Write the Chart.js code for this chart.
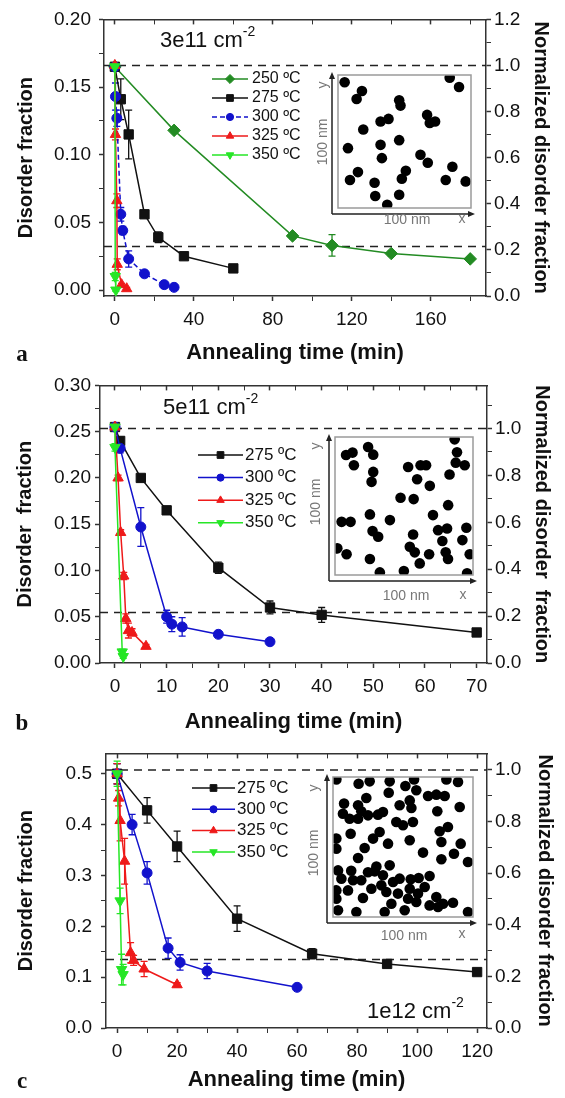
<!DOCTYPE html>
<html>
<head>
<meta charset="utf-8">
<script src="https://cdn.jsdelivr.net/npm/chart.js"></script>
<style>
body{margin:0;width:565px;height:1098px;position:relative;overflow:hidden;background:#fff;font-family:"Liberation Sans",Arial,sans-serif;color:#111;}
canvas{position:absolute;left:0;}
.txt{position:absolute;white-space:nowrap;line-height:1;transform:translate(0,-50%);}
.mid{transform:translate(-50%,-50%);}
.rot{transform:translate(-50%,-50%) rotate(-90deg);}
.dens{font-size:22px;}
.dens span{font-size:14px;position:relative;top:-11px;}
.letter{font-family:"Liberation Serif","Times New Roman",serif;font-weight:bold;font-size:23px;}
.nm{font-size:14px;color:#777;}
</style>
</head>
<body>

<canvas id="panelA" width="565" height="375" style="top:0px"></canvas>
<canvas id="panelB" width="565" height="374" style="top:370px"></canvas>
<canvas id="panelC" width="565" height="364" style="top:733px"></canvas>
<canvas id="insetA"></canvas>
<canvas id="insetB"></canvas>
<canvas id="insetC"></canvas>

<div class="txt dens" style="left:160px;top:40px">3e11 cm<span>-2</span></div>
<div class="txt dens" style="left:163px;top:407px">5e11 cm<span>-2</span></div>
<div class="txt dens" style="left:367px;top:1011px">1e12 cm<span>-2</span></div>

<div class="txt mid letter" style="left:22px;top:353px">a</div>
<div class="txt mid letter" style="left:22px;top:722px">b</div>
<div class="txt mid letter" style="left:22px;top:1080px">c</div>

<div class="txt mid nm" style="left:407px;top:219px">100 nm</div>
<div class="txt mid nm" style="left:462px;top:218px">x</div>
<div class="txt rot nm" style="left:322px;top:142px">100 nm</div>
<div class="txt rot nm" style="left:322px;top:85px">y</div>

<div class="txt mid nm" style="left:406px;top:595px">100 nm</div>
<div class="txt mid nm" style="left:463px;top:594px">x</div>
<div class="txt rot nm" style="left:315px;top:502px">100 nm</div>
<div class="txt rot nm" style="left:315px;top:446px">y</div>

<div class="txt mid nm" style="left:404px;top:935px">100 nm</div>
<div class="txt mid nm" style="left:462px;top:933px">x</div>
<div class="txt rot nm" style="left:313px;top:853px">100 nm</div>
<div class="txt rot nm" style="left:313px;top:788px">y</div>

<script>
const FONT = '"Liberation Sans", Arial, sans-serif';
const FRAME = "#333";

/* ---------- panel a : 3e11 cm-2 ---------- */
const aTime250 = [0, 30, 90, 110, 140, 180];
const aFrac250 = [0.165, 0.118, 0.040, 0.033, 0.027, 0.023];
const aErr250  = [0, 0, 0.002, 0.008, 0.002, 0.001];
const aTime275 = [0, 3, 7, 15, 22, 35, 60];
const aFrac275 = [0.165, 0.141, 0.115, 0.056, 0.039, 0.025, 0.016];
const aErr275  = [0, 0.015, 0.018, 0.002, 0.004, 0.002, 0.001];
const aTime300 = [0, 0.3, 1, 3, 4, 7, 15, 25, 30];
const aFrac300 = [0.165, 0.143, 0.127, 0.056, 0.044, 0.023, 0.012, 0.004, 0.002];
const aErr300  = [0, 0.01, 0.006, 0.005, 0.003, 0.006, 0.002, 0.001, 0.001];
const aTime325 = [0, 0.3, 1, 1.2, 3.4, 6];
const aFrac325 = [0.166, 0.115, 0.066, 0.019, 0.004, 0.001];
const aErr325  = [0.002, 0.004, 0.005, 0.004, 0.001, 0.001];
const aTime350 = [0, 0.2, 0.5];
const aFrac350 = [0.165, 0.010, 0.0];
const aErr350  = [0.002, 0.003, 0.001];
const aDash = [1.0, 0.215];
const aXMajor = [0, 40, 80, 120, 160];
const aXMinor = [20, 60, 100, 140, 180];
const aYMajor = [0, 0.05, 0.1, 0.15, 0.2];
const aYMinor = [0.025, 0.075, 0.125, 0.175];
const aRMajor = [0, 0.2, 0.4, 0.6, 0.8, 1.0, 1.2];
const aRMinor = [0.1, 0.3, 0.5, 0.7, 0.9, 1.1];

/* ---------- panel b : 5e11 cm-2 ---------- */
const bTime275 = [0, 1, 5, 10, 20, 30, 40, 70];
const bFrac275 = [0.255, 0.24, 0.2, 0.165, 0.103, 0.06, 0.052, 0.033];
const bErr275  = [0.003, 0.004, 0.003, 0.003, 0.006, 0.007, 0.008, 0.002];
const bTime300 = [0, 1, 5, 10, 11, 13, 20, 30];
const bFrac300 = [0.255, 0.232, 0.147, 0.05, 0.042, 0.039, 0.031, 0.023];
const bErr300  = [0.003, 0.005, 0.021, 0.007, 0.008, 0.01, 0.003, 0.002];
const bTime325 = [0, 0.6, 1.1, 1.7, 2.1, 2.6, 3.3, 6];
const bFrac325 = [0.255, 0.2, 0.141, 0.094, 0.048, 0.035, 0.033, 0.018];
const bErr325  = [0.003, 0.003, 0.003, 0.004, 0.005, 0.008, 0.004, 0.002];
const bTime350 = [0, 0, 1.4, 1.6];
const bFrac350 = [0.255, 0.233, 0.012, 0.007];
const bErr350  = [0.002, 0.004, 0.003, 0.002];
const bDash = [1.0, 0.215];
const bXMajor = [0, 10, 20, 30, 40, 50, 60, 70];
const bXMinor = [5, 15, 25, 35, 45, 55, 65];
const bYMajor = [0, 0.05, 0.1, 0.15, 0.2, 0.25, 0.3];
const bYMinor = [0.025, 0.075, 0.125, 0.175, 0.225, 0.275];
const bRMajor = [0, 0.2, 0.4, 0.6, 0.8, 1.0];
const bRMinor = [0.1, 0.3, 0.5, 0.7, 0.9, 1.1];

/* ---------- panel c : 1e12 cm-2 ---------- */
const cTime275 = [0, 10, 20, 40, 65, 90, 120];
const cFrac275 = [0.5, 0.428, 0.357, 0.215, 0.146, 0.126, 0.11];
const cErr275  = [0.02, 0.025, 0.03, 0.025, 0.01, 0.004, 0.004];
const cTime300 = [0, 5, 10, 17, 21, 30, 60];
const cFrac300 = [0.5, 0.40, 0.305, 0.157, 0.129, 0.112, 0.08];
const cErr300  = [0.02, 0.02, 0.022, 0.02, 0.015, 0.015, 0.004];
const cTime325 = [0, 0.5, 1, 2.5, 4.5, 5.5, 9, 20];
const cFrac325 = [0.5, 0.452, 0.408, 0.328, 0.148, 0.133, 0.116, 0.085];
const cErr325  = [0.02, 0.015, 0.04, 0.045, 0.02, 0.01, 0.015, 0.004];
const cTime350 = [0, 1, 1.5, 2];
const cFrac350 = [0.5, 0.25, 0.115, 0.105];
const cErr350  = [0.025, 0.025, 0.03, 0.02];
const cDash = [1.0, 0.265];
const cXMajor = [0, 20, 40, 60, 80, 100, 120];
const cXMinor = [10, 30, 50, 70, 90, 110];
const cYMajor = [0, 0.1, 0.2, 0.3, 0.4, 0.5];
const cYMinor = [0.05, 0.15, 0.25, 0.35, 0.45];
const cRMajor = [0, 0.2, 0.4, 0.6, 0.8, 1.0];
const cRMinor = [0.1, 0.3, 0.5, 0.7, 0.9];

/* ---------- inset particle positions (nm) ---------- */
const insetAx = [5,18,14,84,91,46,47,32,38,67,69,73,19,46,32,7.5,33,62,67.5,86,51,48,15,9,27.5,81,96,28,46,37];
const insetAy = [94.5,88,82,98,91,81,77,65,67,70,64,65,59,51,47.5,45,37.5,40,34,31,28,22,27,21,19,21,20,9,10,2.5];
const insetBx = [8,12.7,13.7,24,27.7,27.7,26.5,86.7,88.4,87.5,94,53,62,66,59.5,68.7,83,47.5,57,82,71,4.8,11.3,25.3,39.8,27.2,31.3,56.6,74.7,81.2,95.2,77.8,92.3,54.2,57.8,68.2,80.2,81.9,97.6,1.7,8.4,25.3,61.4,32.5,49.9,95.7];
const insetBy = [87,88.7,79.5,92.8,87.2,74.7,67.5,98.3,89,81.4,79.5,78.3,79.5,79.5,69.4,64.6,72.8,56,55,50.6,43.4,38.5,38.5,43.9,39.8,31.8,27.7,29.4,32.5,33.7,34.2,24.6,25.3,20.5,16.4,15,16.4,11.6,15,19.3,15,11.6,8.4,1.9,2.9,1.2];
const insetCx = [2.4,18.3,26.2,40.5,39.8,51.7,59.5,57.9,81,89.3,67.9,73.8,79.8,7.9,17.9,23.8,20.2,7.1,11.9,17.9,25,32.1,35.7,47.6,54.8,56,74.5,90.5,45.2,50,57.1,82.1,76.2,12.6,2.4,33.3,28.6,39.3,22.6,17.9,54.8,77.4,91.2,86.4,64.3,77.4,96.4,3.6,6,14.3,20.2,29.8,35.7,40.5,34.5,27.4,2.4,2.4,10.7,21.4,38.1,47.6,55.5,61.2,69,65.5,54.8,46.4,53.6,59.5,51.2,41.7,36.9,73.8,69,78.6,85.7,75,16.7,3.6,96.4,2.4,42.9,60.7,25,13,31];
const insetCy = [98.3,95.2,96.9,96.9,88.8,93.6,90.5,98.3,98.3,96.4,86.4,87.4,86.4,81,79.8,85,75.5,73.8,70.2,70.2,72.6,73.1,75,79.8,83.3,77.9,75.5,78.6,67.9,65.5,67.9,64.3,61.2,59.5,56,60.7,56,52.4,49.3,42.1,54.8,53.6,52.4,45.2,46,41.2,39.3,33.3,27.4,26.2,26.2,32.6,29.8,36.9,22.6,20.2,19,13.1,19,13.6,17.9,27.4,26.9,27.9,29.3,21.4,20.2,16.7,13.1,10.7,4.8,9.5,3.6,14.3,8.3,9.5,10.2,7.1,3.6,4.8,3.6,48.8,25,16.7,32,33,36];

/* ---------- series styles ---------- */
const S250 = {label:"250 ºC", color:"#238b23", style:"rectRot", r:6.3};
const S275 = {label:"275 ºC", color:"#111111", style:"rect", r:6.6};
const S300 = {label:"300 ºC", color:"#1212cc", style:"circle", r:5};
const S325 = {label:"325 ºC", color:"#ee1a1a", style:"triangle", r:6};
const S350 = {label:"350 ºC", color:"#26e626", style:"triangle", r:6, rot:180};

/* ---------- plugins ---------- */
const errorBars = {
  id: "errorBars",
  beforeDatasetsDraw(chart){
    const ctx = chart.ctx;
    chart.data.datasets.forEach(ds => {
      if(!ds.errors) return;
      const xs = chart.scales.x, ys = chart.scales.y;
      ctx.save();
      ctx.strokeStyle = ds.borderColor;
      ctx.lineWidth = 1.3;
      ds.data.forEach((p, j) => {
        const e = ds.errors[j];
        if(!e) return;
        const px = xs.getPixelForValue(p.x);
        const y1 = ys.getPixelForValue(p.y + e);
        const y2 = ys.getPixelForValue(p.y - e);
        ctx.beginPath();
        ctx.moveTo(px, y1); ctx.lineTo(px, y2);
        ctx.moveTo(px - 3.5, y1); ctx.lineTo(px + 3.5, y1);
        ctx.moveTo(px - 3.5, y2); ctx.lineTo(px + 3.5, y2);
        ctx.stroke();
      });
      ctx.restore();
    });
  }
};

const panelLegend = {
  id: "panelLegend",
  afterDatasetsDraw(chart, args, o){
    const ctx = chart.ctx;
    let row = 0;
    chart.data.datasets.forEach(ds => {
      if(!ds.inLegend) return;
      const y = o.y + row * o.dy - o.top;
      const mx = o.x + o.len / 2;
      ctx.save();
      ctx.strokeStyle = ds.borderColor;
      ctx.lineWidth = 1.5;
      ctx.setLineDash(ds.borderDash || []);
      ctx.beginPath(); ctx.moveTo(o.x, y); ctx.lineTo(o.x + o.len, y); ctx.stroke();
      ctx.setLineDash([]);
      ctx.fillStyle = ds.backgroundColor;
      ctx.lineWidth = 1;
      if(Chart.helpers && Chart.helpers.drawPoint){
        Chart.helpers.drawPoint(ctx, {pointStyle: ds.pointStyle, rotation: ds.pointRotation || 0,
          radius: ds.pointRadius * 0.72, borderWidth: 1}, mx, y);
      } else {
        ctx.beginPath(); ctx.arc(mx, y, 4, 0, Math.PI * 2); ctx.fill();
      }
      ctx.fillStyle = "#111";
      ctx.font = o.size + "px " + FONT;
      ctx.textBaseline = "middle";
      ctx.fillText(ds.label, o.x + o.len + o.gap, y);
      ctx.restore();
      row++;
    });
  }
};

const insetFrame = {
  id: "insetFrame",
  afterDatasetsDraw(chart){
    const {ctx, chartArea: a} = chart;
    ctx.save();
    ctx.strokeStyle = "#9a9a9a";
    ctx.lineWidth = 1.5;
    ctx.strokeRect(a.left, a.top, a.right - a.left, a.bottom - a.top);
    ctx.strokeStyle = "#222";
    ctx.fillStyle = "#222";
    ctx.lineWidth = 1.5;
    const ax = a.left - 6, ay = a.bottom + 6;
    ctx.beginPath();
    ctx.moveTo(ax, ay); ctx.lineTo(ax, a.top + 2);
    ctx.moveTo(ax, ay); ctx.lineTo(a.right + 1, ay);
    ctx.stroke();
    ctx.beginPath();
    ctx.moveTo(ax, a.top - 3); ctx.lineTo(ax - 3, a.top + 4); ctx.lineTo(ax + 3, a.top + 4); ctx.closePath();
    ctx.moveTo(a.right + 4, ay); ctx.lineTo(a.right - 3, ay - 3); ctx.lineTo(a.right - 3, ay + 3); ctx.closePath();
    ctx.fill();
    ctx.restore();
  }
};

/* ---------- helpers ---------- */
function tickAxis(position, min, max, major, minor, digits, size, labelPad, tickLen){
  const all = major.concat(minor).sort((p, q) => p - q);
  return {
    type: "linear", position, min, max,
    afterBuildTicks: ax => { ax.ticks = all.map(v => ({value: v})); },
    afterFit: ax => { if(ax.isHorizontal()) ax.height = size; else ax.width = size; },
    grid: {drawOnChartArea: false, drawTicks: true, tickLength: tickLen, color: FRAME, tickColor: FRAME,
      tickWidth: c => (c.tick && major.includes(c.tick.value)) ? 1.5 : 1},
    border: {display: true, color: FRAME, width: 1.5},
    ticks: {display: digits !== null, autoSkip: false, maxRotation: 0, padding: labelPad, color: "#111",
      font: {family: FONT, size: 19},
      callback: v => major.includes(v) ? v.toFixed(digits) : ""}
  };
}

function axisTitle(text, size, pad){
  return {display: true, text, color: "#111", font: {family: FONT, size, weight: "bold", lineHeight: 1.2},
    padding: {top: pad, bottom: pad}};
}

function buildPanel(p){
  const datasets = [];
  p.series.forEach((s, i) => {
    datasets.push({
      label: s.label,
      data: s.x.map((x, j) => ({x, y: s.y[j]})),
      errors: s.err,
      inLegend: true,
      borderColor: s.color, backgroundColor: s.color,
      pointBackgroundColor: s.color, pointBorderColor: s.color,
      borderWidth: 1.5, borderDash: s.dash || [],
      pointStyle: s.style, pointRotation: s.rot || 0,
      pointRadius: s.r, pointBorderWidth: 1,
      tension: 0, clip: false,
      order: p.series.length - i,
      xAxisID: "x", yAxisID: "y"
    });
  });
  p.dash.forEach(v => {
    datasets.push({
      data: [{x: p.xRange[0], y: v}, {x: p.xRange[1], y: v}],
      borderColor: "#222", borderWidth: 1.5, borderDash: [8, 6],
      pointRadius: 0, order: 20, xAxisID: "x", yAxisID: "y2"
    });
  });

  const xAxis = tickAxis("bottom", p.xRange[0], p.xRange[1], p.xMajor, p.xMinor, 0, p.height - (p.area.b - p.top), 7, 5);
  xAxis.title = axisTitle("Annealing time (min)", 22, p.xTitlePad);
  const xTop = tickAxis("top", p.xRange[0], p.xRange[1], p.xMajor, p.xMinor, null, 0, 0, -5);
  const yAxis = tickAxis("left", p.yRange[0], p.yRange[1], p.yMajor, p.yMinor, p.yDigits, p.area.l, p.yPad, 5);
  yAxis.title = axisTitle(p.yTitle, 20, p.yTitlePad);
  const y2Axis = tickAxis("right", p.rRange[0], p.rRange[1], p.rMajor, p.rMinor, 1, 565 - p.area.r, p.rPad, 5);
  y2Axis.title = axisTitle(p.rTitle, 20, p.rTitlePad);

  new Chart(document.getElementById(p.canvas), {
    type: "line",
    data: {datasets},
    options: {
      responsive: false, animation: false, events: [],
      layout: {padding: {top: p.area.t - p.top, left: 0, right: 0, bottom: 0}, autoPadding: false},
      plugins: {legend: {display: false}, tooltip: {enabled: false}, panelLegend: p.legend},
      scales: {x: xAxis, x2: xTop, y: yAxis, y2: y2Axis}
    },
    plugins: [errorBars, panelLegend]
  });
}

function buildInset(id, rect, xs, ys){
  const pad = {left: 14, top: 6, right: 8, bottom: 14};
  const cv = document.getElementById(id);
  cv.width = rect.r - rect.l + pad.left + pad.right;
  cv.height = rect.b - rect.t + pad.top + pad.bottom;
  cv.style.left = (rect.l - pad.left) + "px";
  cv.style.top = (rect.t - pad.top) + "px";
  new Chart(cv, {
    type: "scatter",
    data: {datasets: [{data: xs.map((x, i) => ({x, y: ys[i]})), pointRadius: 5.3, pointBorderWidth: 0,
      pointBackgroundColor: "#000", clip: 0}]},
    options: {
      responsive: false, animation: false, events: [],
      layout: {padding: pad, autoPadding: false},
      plugins: {legend: {display: false}, tooltip: {enabled: false}},
      scales: {x: {type: "linear", min: 0, max: 100, display: false},
               y: {type: "linear", min: 0, max: 100, display: false}}
    },
    plugins: [insetFrame]
  });
}

/* ---------- build ---------- */
buildPanel({
  canvas: "panelA", top: 0, height: 375,
  area: {l: 104, r: 486, t: 16, b: 296},
  xRange: [-5.5, 188], yRange: [-0.0044, 0.2], rRange: [0, 1.2],
  xMajor: aXMajor, xMinor: aXMinor, yMajor: aYMajor, yMinor: aYMinor, rMajor: aRMajor, rMinor: aRMinor,
  yDigits: 2, yPad: 8, rPad: 3, xTitlePad: 9, yTitlePad: 14, rTitlePad: 12,
  yTitle: "Disorder fraction", rTitle: "Normalized disorder fraction",
  dash: aDash,
  legend: {top: 0, x: 212, y: 79, dy: 19, len: 36, gap: 4, size: 16},
  series: [
    Object.assign({x: aTime250, y: aFrac250, err: aErr250}, S250),
    Object.assign({x: aTime275, y: aFrac275, err: aErr275}, S275),
    Object.assign({x: aTime300, y: aFrac300, err: aErr300, dash: [5, 3]}, S300),
    Object.assign({x: aTime325, y: aFrac325, err: aErr325}, S325),
    Object.assign({x: aTime350, y: aFrac350, err: aErr350}, S350)
  ]
});

buildPanel({
  canvas: "panelB", top: 370, height: 374,
  area: {l: 100, r: 487, t: 383, b: 663},
  xRange: [-2.9, 72], yRange: [0, 0.30], rRange: [0, 1.184],
  xMajor: bXMajor, xMinor: bXMinor, yMajor: bYMajor, yMinor: bYMinor, rMajor: bRMajor, rMinor: bRMinor,
  yDigits: 2, yPad: 4, rPad: 3, xTitlePad: 9, yTitlePad: 13, rTitlePad: 11,
  yTitle: "Disorder  fraction", rTitle: "Normalized disorder  fraction",
  dash: bDash,
  legend: {top: 370, x: 198, y: 455, dy: 22.6, len: 45, gap: 2, size: 17},
  series: [
    Object.assign({x: bTime275, y: bFrac275, err: bErr275}, S275),
    Object.assign({x: bTime300, y: bFrac300, err: bErr300}, S300),
    Object.assign({x: bTime325, y: bFrac325, err: bErr325}, S325),
    Object.assign({x: bTime350, y: bFrac350, err: bErr350}, S350)
  ]
});

buildPanel({
  canvas: "panelC", top: 733, height: 364,
  area: {l: 106, r: 487, t: 747, b: 1028},
  xRange: [-3.7, 123.3], yRange: [0, 0.54], rRange: [0, 1.064],
  xMajor: cXMajor, xMinor: cXMinor, yMajor: cYMajor, yMinor: cYMinor, rMajor: cRMajor, rMinor: cRMinor,
  yDigits: 1, yPad: 9, rPad: 3, xTitlePad: 4, yTitlePad: 14, rTitlePad: 8,
  yTitle: "Disorder fraction", rTitle: "Normalized disorder fraction",
  dash: cDash,
  legend: {top: 733, x: 192, y: 788, dy: 21.3, len: 43, gap: 2, size: 17},
  series: [
    Object.assign({x: cTime275, y: cFrac275, err: cErr275}, S275),
    Object.assign({x: cTime300, y: cFrac300, err: cErr300}, S300),
    Object.assign({x: cTime325, y: cFrac325, err: cErr325}, S325),
    Object.assign({x: cTime350, y: cFrac350, err: cErr350}, S350)
  ]
});

buildInset("insetA", {l: 338, t: 75, r: 471, b: 208}, insetAx, insetAy);
buildInset("insetB", {l: 335, t: 437, r: 473, b: 575}, insetBx, insetBy);
buildInset("insetC", {l: 333, t: 777, r: 473, b: 917}, insetCx, insetCy);
</script>
</body>
</html>
